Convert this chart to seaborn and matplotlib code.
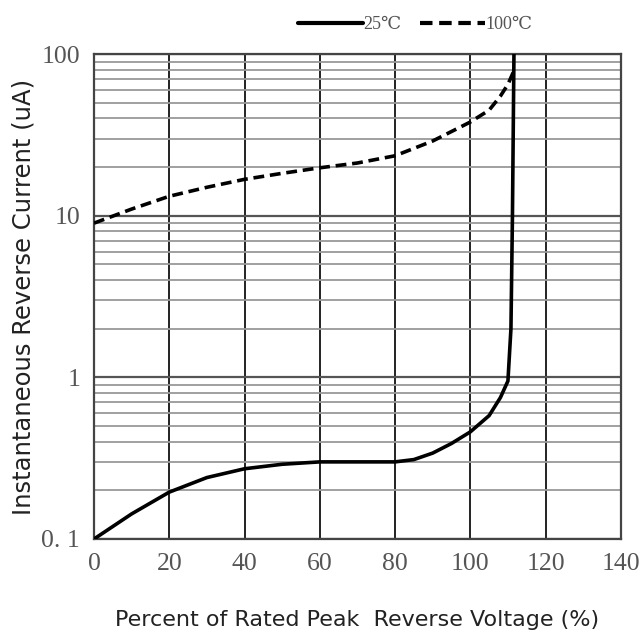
import numpy as np
import pandas as pd
import matplotlib
matplotlib.use("Agg")
import matplotlib.pyplot as plt
import seaborn as sns
from matplotlib.ticker import FixedLocator, LogLocator, NullFormatter

# 25 C curve
x_25 = [0, 10, 20, 30, 40, 50, 60, 70, 80, 85, 90, 95, 100, 105, 108, 110, 110.8, 111.2, 111.6]
y_25 = [0.10, 0.143, 0.195, 0.24, 0.272, 0.29, 0.30, 0.30, 0.30, 0.31, 0.34, 0.39, 0.46, 0.58, 0.75, 0.95, 2.0, 10.0, 100.0]

# 100 C curve
x_100 = [0, 10, 20, 30, 40, 50, 60, 70, 80, 90, 100, 105, 108, 110, 111.5]
y_100 = [9.0, 11.0, 13.2, 15.0, 16.8, 18.3, 19.8, 21.2, 23.5, 29.0, 38.0, 45.0, 55.0, 65.0, 78.0]

x_ticks = [0, 20, 40, 60, 80, 100, 120, 140]
y_ticks = [0.1, 1, 10, 100]
y_tick_labels = ["0. 1", "1", "10", "100"]

series_names = ["25℃", "100℃"]

df = pd.concat([
    pd.DataFrame({"pct": x_25, "cur": y_25, "T": series_names[0]}),
    pd.DataFrame({"pct": x_100, "cur": y_100, "T": series_names[1]}),
])

sns.set_style("white")
serif = ["Liberation Serif", "DejaVu Serif", "Noto Sans CJK SC"]

fig = plt.figure(figsize=(6.44, 6.33), dpi=100)
ax = fig.add_axes([0.146, 0.1485, 0.818, 0.766])

sns.lineplot(data=df, x="pct", y="cur", hue="T", style="T",
             palette=["black", "black"], dashes=[(None, None), (3, 1.6)],
             linewidth=2.6, sort=False, estimator=None, ax=ax, zorder=5)

ax.set_yscale("log")
ax.set_xlim(0, 140)
ax.set_ylim(0.1, 100)

ax.xaxis.set_major_locator(FixedLocator(x_ticks))
ax.yaxis.set_major_locator(FixedLocator(y_ticks))
ax.yaxis.set_minor_locator(LogLocator(base=10, subs=np.arange(2, 10)))
ax.yaxis.set_minor_formatter(NullFormatter())
ax.set_xticklabels([str(v) for v in x_ticks], family=serif, fontsize=18.5, color="#555555")
ax.set_yticklabels(y_tick_labels, family=serif, fontsize=18.5, color="#555555")

ax.grid(which="major", axis="x", color="#222222", linewidth=1.4)
ax.grid(which="major", axis="y", color="#555555", linewidth=1.6)
ax.grid(which="minor", axis="y", color="#999999", linewidth=1.3)
ax.tick_params(axis="both", which="both", length=0)
ax.tick_params(axis="x", which="major", pad=10)
ax.tick_params(axis="y", which="major", length=6, color="#888888", pad=4)
for s in ax.spines.values():
    s.set_color("#444444")
    s.set_linewidth(1.6)

ax.set_xlabel("Percent of Rated Peak  Reverse Voltage (%)", fontsize=16, color="#222222", labelpad=25)
ax.set_ylabel("Instantaneous Reverse Current (uA)", fontsize=17.5, color="#222222", labelpad=4)

leg = ax.legend(loc="lower right", bbox_to_anchor=(0.85, 1.025), ncol=2, frameon=False,
                handlelength=3.6, handletextpad=0.05, columnspacing=1.0,
                borderaxespad=0.1, prop={"family": serif, "size": 13})
for t in leg.get_texts():
    t.set_color("#555555")
for h in leg.get_lines():
    h.set_linewidth(3)

fig.savefig("out.png", dpi=100)
